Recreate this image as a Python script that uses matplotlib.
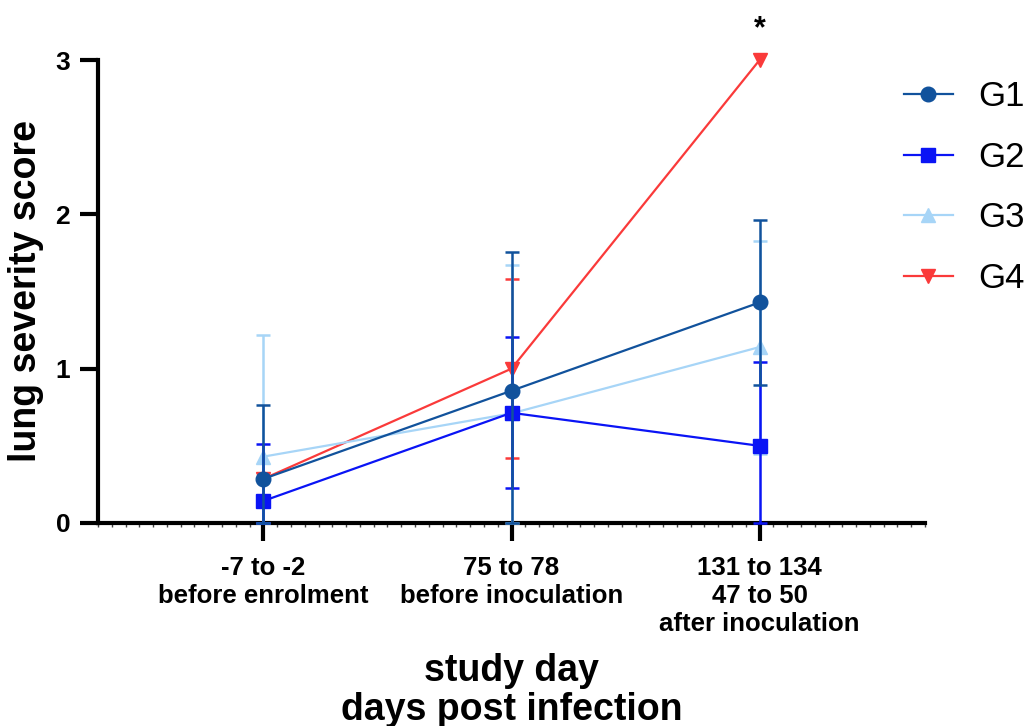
import numpy as np
import matplotlib
matplotlib.use("Agg")
import matplotlib.pyplot as plt
from matplotlib.ticker import MultipleLocator

plt.rcParams["font.family"] = ["Liberation Sans", "DejaVu Sans"]

# data
tick_labels = [
    "-7 to -2\nbefore enrolment",
    "75 to 78\nbefore inoculation",
    "131 to 134\n47 to 50\nafter inoculation",
]
groups = ["G1", "G2", "G3", "G4"]
g1_mean = [0.286, 0.857, 1.429]
g1_sd = [0.48, 0.90, 0.535]
g2_mean = [0.143, 0.714, 0.50]
g2_sd = [0.37, 0.49, 0.54]
g3_mean = [0.43, 0.71, 1.14]
g3_sd = [0.79, 0.96, 0.69]
g4_mean = [0.286, 1.00, 3.00]
g4_sd = [0.0, 0.58, 0.0]

means = [g1_mean, g2_mean, g3_mean, g4_mean]
sds = [g1_sd, g2_sd, g3_sd, g4_sd]
colors = ["#11529c", "#0a14f5", "#a7d5f7", "#fa3a3a"]
markers = ["o", "s", "^", "v"]

x = np.arange(len(tick_labels))

fig = plt.figure(figsize=(10.3, 7.26), dpi=100)
ax = fig.add_axes([98 / 1030, 1 - 523 / 726, 827 / 1030, 463 / 726])

# draw G4 first so that G1 ends up on top
handles = {}
for i in reversed(range(len(groups))):
    m = np.array(means[i])
    s = np.array(sds[i])
    lower = np.minimum(s, m)  # bars stop at zero
    err = np.vstack([lower, s])
    has_err = s > 0
    ax.errorbar(x[has_err], m[has_err], yerr=err[:, has_err], fmt="none",
                ecolor=colors[i], elinewidth=1.8, capsize=5, capthick=1.8,
                zorder=3 + 2 * (3 - i), clip_on=False)
    (h,) = ax.plot(x, m, color=colors[i], marker=markers[i], markersize=10.5,
                   linewidth=1.6, zorder=4 + 2 * (3 - i), clip_on=False,
                   label=groups[i])
    handles[groups[i]] = h

ax.text(2, 3.2, "*", ha="center", va="center", fontsize=22,
        fontweight="bold")

ax.set_xlim(-2 / 3, 2 + 2 / 3)
ax.set_ylim(0, 3)
ax.set_xticks(x)
ax.set_xticklabels(tick_labels, fontsize=18.5, fontweight="bold",
                   linespacing=1.2)
ax.xaxis.set_minor_locator(MultipleLocator(1 / 18))
ax.set_yticks([0, 1, 2, 3])
ax.set_yticklabels(["0", "1", "2", "3"], fontsize=19, fontweight="bold")

for side in ["top", "right"]:
    ax.spines[side].set_visible(False)
for side in ["left", "bottom"]:
    ax.spines[side].set_linewidth(3)
ax.tick_params(axis="both", which="major", length=13, width=3, pad=7)
ax.tick_params(axis="x", which="major", pad=11)
ax.tick_params(axis="x", which="minor", length=3, width=1, color="#444444")

ax.set_ylabel("lung severity score", fontsize=27, fontweight="bold",
              labelpad=8)
ax.set_xlabel("study day\ndays post infection", fontsize=27,
              fontweight="bold", labelpad=12, linespacing=1.12)

fig.legend([handles[g] for g in groups], groups, loc="upper left",
           bbox_to_anchor=(890 / 1030, 1 - 66 / 726), frameon=False,
           fontsize=25, handlelength=1.4, handletextpad=0.75,
           labelspacing=0.8, borderaxespad=0)

fig.savefig("out.png", dpi=100)
